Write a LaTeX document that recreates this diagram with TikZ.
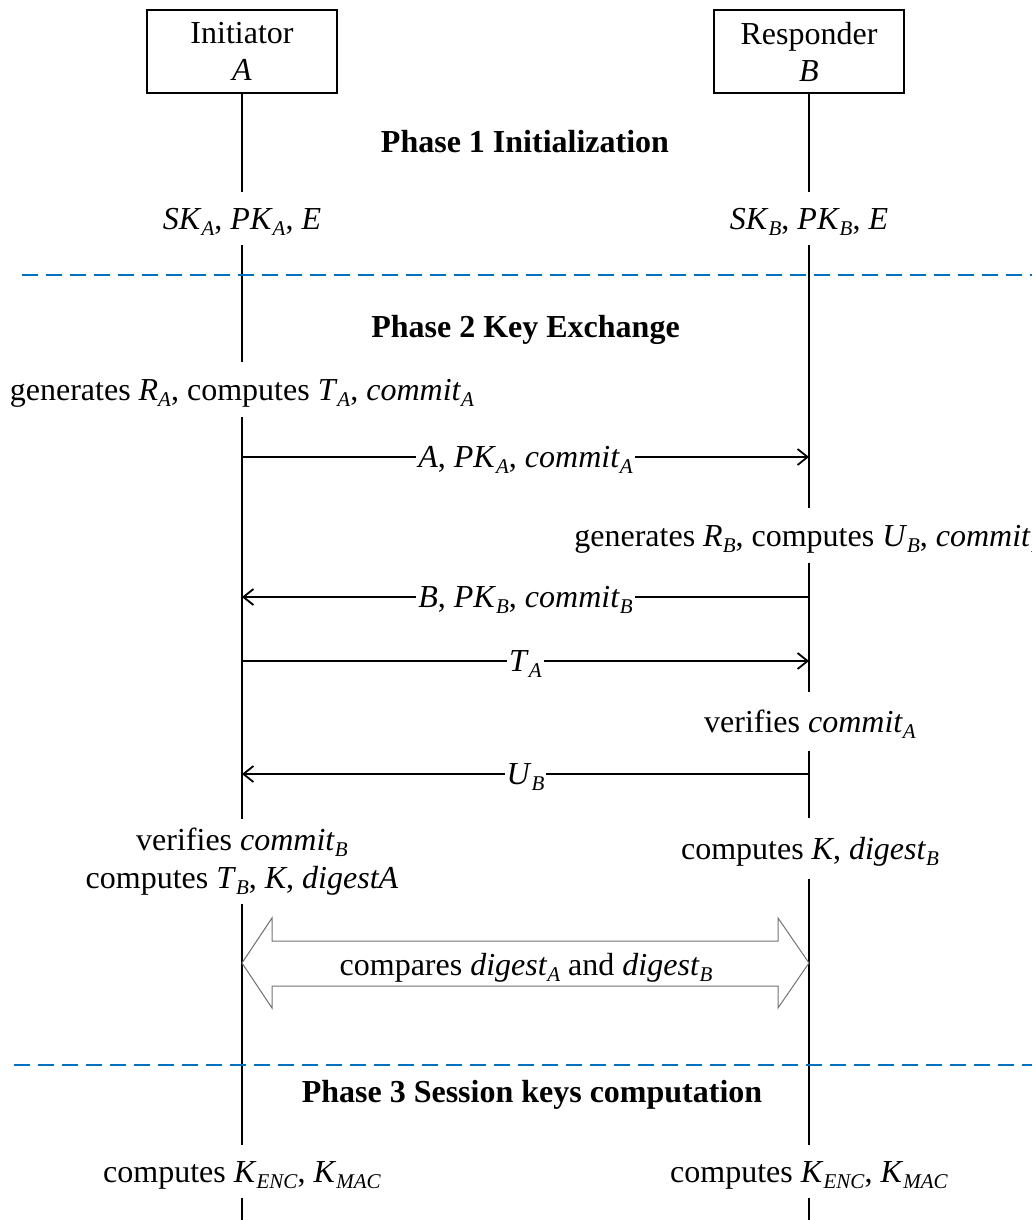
\documentclass[tikz,border=0pt]{standalone}
\usepackage{fontspec}
\setmainfont{Liberation Serif}
\usetikzlibrary{arrows.meta}

% italic variable and small, lowered italic subscript
\newcommand{\iv}[1]{\textit{#1}}
\newcommand{\sbs}[1]{\raisebox{-6pt}{\fontsize{21}{21}\selectfont\textit{#1}}}

\definecolor{phaseblue}{RGB}{0,112,192}

\begin{document}
\begin{tikzpicture}[x=1pt,y=-1pt,
  every node/.style={font=\fontsize{32}{38}\selectfont},
  actor/.style={draw, line width=1.6pt, minimum width=190pt, minimum height=83pt,
                align=center, inner sep=0pt},
  life/.style={line width=1.8pt},
  msg/.style={line width=1.8pt, -{Straight Barb[length=10pt,width=16pt]}},
  gaptext/.style={fill=white, text height=21pt, text depth=0pt,
                  inner xsep=6pt, inner ysep=#1},
  gaptext/.default=16pt,
  lbl/.style={fill=white, text height=21pt, text depth=0pt,
              inner xsep=2pt, inner ysep=0pt},
  phase/.style={font=\fontsize{32}{38}\selectfont\bfseries, anchor=base},
  divider/.style={draw=phaseblue, line width=2.2pt, dash pattern=on 16pt off 8pt},
  blockarrow/.style={draw=black!55, line width=1pt, fill=white, line join=miter}
]
\useasboundingbox (0,0) rectangle (1031,1220);

% participants
\node[actor] (pa) at (242,51.5) {Initiator\\[-1pt]\iv{A}};
\node[actor] (pb) at (809,51.5) {Responder\\[-1pt]\iv{B}};

% lifelines
\coordinate (ea) at (242,1225);
\coordinate (eb) at (809,1225);
\draw[life] (pa.south) -- (ea);
\draw[life] (pb.south) -- (eb);

% phase dividers
\coordinate (d1l) at (22,275);
\coordinate (d1r) at (1040,275);
\coordinate (d2l) at (14,1065);
\coordinate (d2r) at (1040,1065);
\draw[divider] (d1l) -- (d1r);
\draw[divider] (d2l) -- (d2r);

% Phase 1
\node[phase] (ph1) at (525,153) {Phase 1 Initialization};
\node[gaptext=16pt] (inA) at (242,218.5) {\iv{SK}\sbs{A}, \iv{PK}\sbs{A}, \iv{E}};
\node[gaptext=16pt] (inB) at (809,218.5) {\iv{SK}\sbs{B}, \iv{PK}\sbs{B}, \iv{E}};

% Phase 2
\node[phase] (ph2) at (525.5,337) {Phase 2 Key Exchange};
\node[gaptext=17pt] (genA) at (242,389.5)
  {generates \iv{R}\sbs{A}, computes \iv{T}\sbs{A}, \iv{commit}\sbs{A}};

\coordinate (m1a) at (242,457);
\coordinate (m1b) at (809,457);
\draw[msg] (m1a) -- node[lbl] (l1) {\iv{A}, \iv{PK}\sbs{A}, \iv{commit}\sbs{A}} (m1b);

\node[gaptext=17pt] (genB) at (809,535.5)
  {generates \iv{R}\sbs{B}, computes \iv{U}\sbs{B}, \iv{commit}\sbs{B}};

\coordinate (m2a) at (242,597);
\coordinate (m2b) at (809,597);
\draw[msg] (m2b) -- node[lbl] (l2) {\iv{B}, \iv{PK}\sbs{B}, \iv{commit}\sbs{B}} (m2a);

\coordinate (m3a) at (242,661);
\coordinate (m3b) at (809,661);
\draw[msg] (m3a) -- node[lbl] (l3) {\iv{T}\sbs{A}} (m3b);

\node[gaptext=19pt] (verA) at (810,721.5) {verifies \iv{commit}\sbs{A}};

\coordinate (m4a) at (242,774);
\coordinate (m4b) at (809,774);
\draw[msg] (m4b) -- node[lbl] (l4) {\iv{U}\sbs{B}} (m4a);

\node[fill=white, align=center, inner xsep=6pt, inner ysep=0pt,
      minimum height=85pt, font=\fontsize{32}{38}\selectfont] (verB) at (242,861.5)
  {verifies \iv{commit}\sbs{B}\\computes \iv{T}\sbs{B}, \iv{K}, \iv{digestA}};
\node[gaptext=20pt] (keyB) at (810,848.5) {computes \iv{K}, \iv{digest}\sbs{B}};

% digest comparison (double block arrow between the lifelines)
\coordinate (cmpL) at (242,963);
\coordinate (cmpR) at (809,963);
\draw[blockarrow] (cmpL) -- ++(30,-45) -- ++(0,23) -- ++(506,0) -- ++(0,-23)
  -- (cmpR) -- ++(-31,45) -- ++(0,-22) -- ++(-506,0) -- ++(0,22) -- cycle;
\node[text height=21pt, text depth=0pt, inner sep=0pt] (cmp) at (526,965)
  {compares \iv{digest}\sbs{A} and \iv{digest}\sbs{B}};

% Phase 3
\node[phase] (ph3) at (532,1102) {Phase 3 Session keys computation};
\node[gaptext=16pt] (skA) at (242,1171.5) {computes \iv{K}\sbs{ENC}, \iv{K}\sbs{MAC}};
\node[gaptext=16pt] (skB) at (809,1171.5) {computes \iv{K}\sbs{ENC}, \iv{K}\sbs{MAC}};
\end{tikzpicture}
\end{document}
